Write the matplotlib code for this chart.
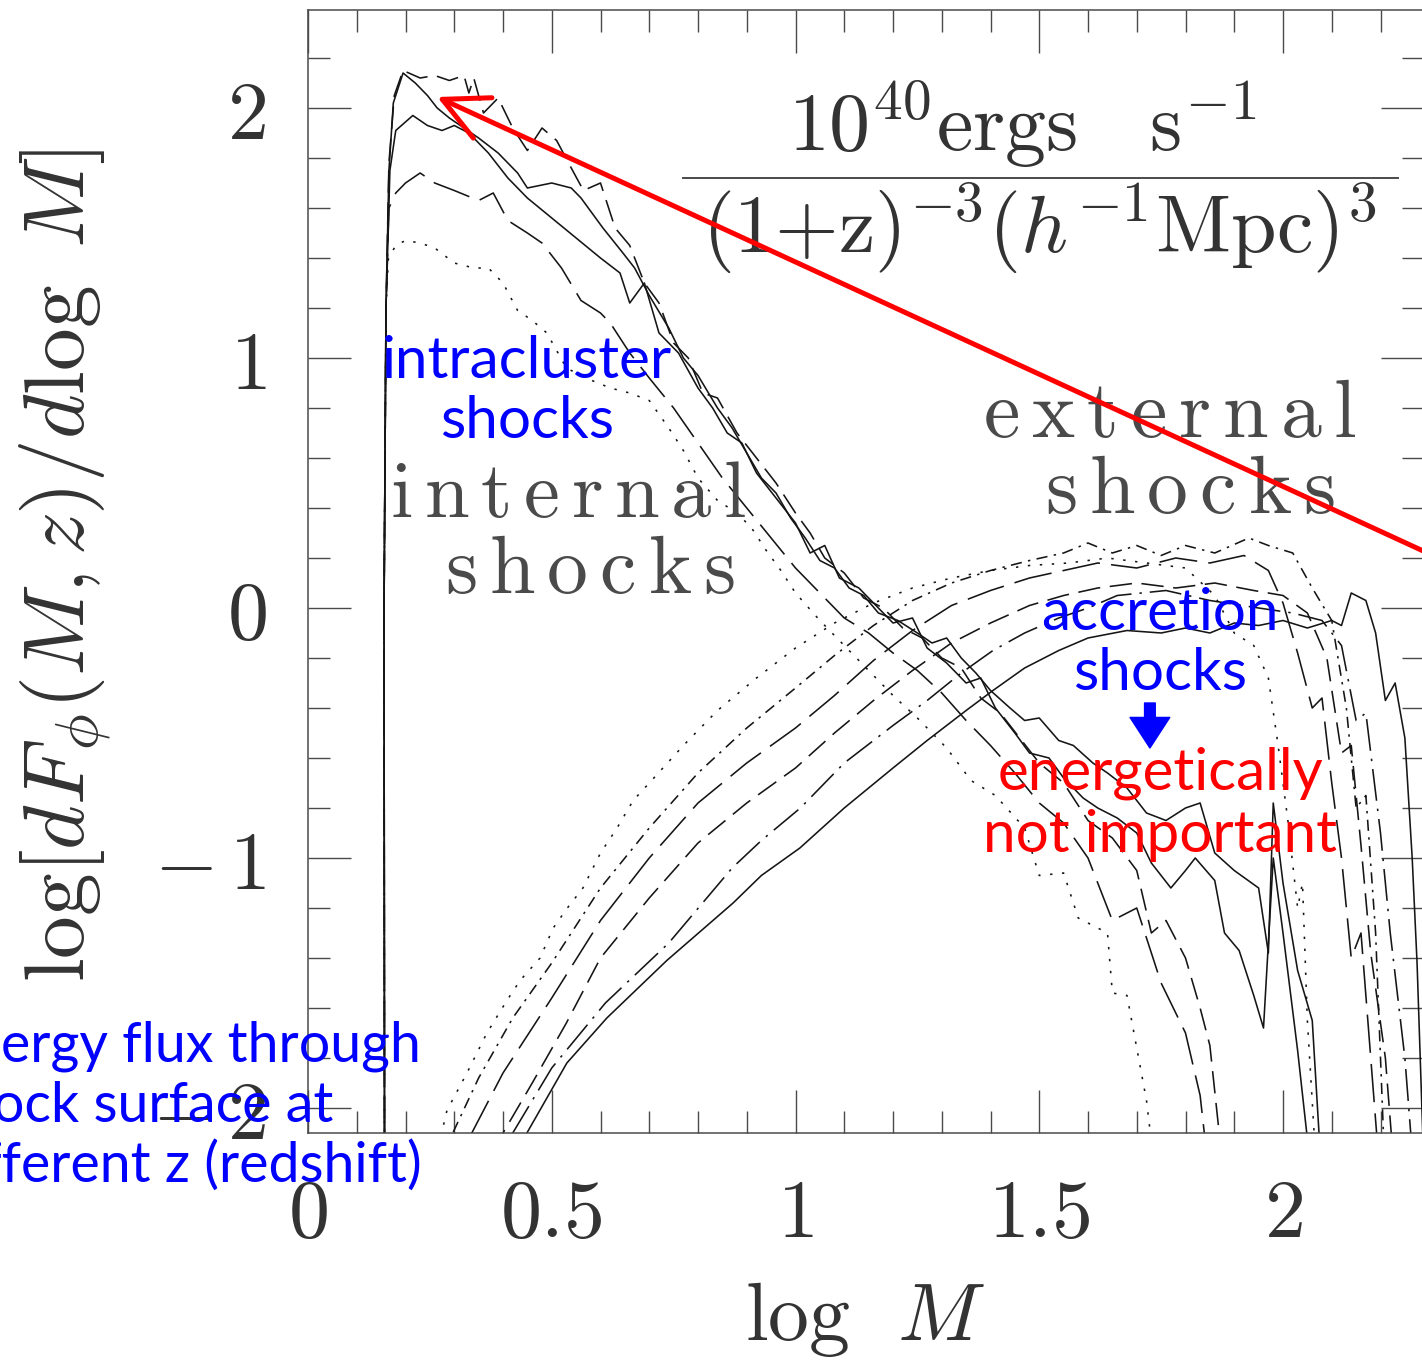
import numpy as np
import matplotlib.pyplot as plt

plt.rcParams['mathtext.fontset'] = 'cm'

# internal shocks: (log M, log dF/dlogM)
int_solid_a = [(0.157, -2.3), (0.156, 0.0), (0.160, 1.2), (0.166, 1.75), (0.175, 2.02), (0.195, 2.14),
               (0.22, 2.10), (0.245, 2.05), (0.265, 2.0), (0.29, 1.96), (0.35, 1.88), (0.39, 1.82),
               (0.43, 1.74), (0.45, 1.68), (0.50, 1.70), (0.54, 1.68), (0.56, 1.64), (0.605, 1.52),
               (0.646, 1.42), (0.67, 1.36), (0.70, 1.25), (0.74, 1.12), (0.77, 1.0), (0.80, 0.93),
               (0.84, 0.80), (0.87, 0.72), (0.90, 0.62), (0.93, 0.52), (0.96, 0.46), (0.99, 0.36),
               (1.02, 0.28), (1.05, 0.19), (1.08, 0.16), (1.11, 0.08), (1.14, 0.05), (1.17, -0.02),
               (1.21, -0.05), (1.25, -0.10), (1.28, -0.14), (1.31, -0.12), (1.34, -0.20), (1.37, -0.26),
               (1.40, -0.33), (1.44, -0.40), (1.47, -0.45), (1.50, -0.44), (1.54, -0.53), (1.57, -0.55),
               (1.61, -0.62), (1.64, -0.66), (1.68, -0.72), (1.72, -0.82), (1.76, -0.85), (1.80, -0.80),
               (1.83, -0.78), (1.86, -0.98), (1.90, -1.05), (1.95, -1.12), (1.97, -1.38), (1.98, -0.78),
               (2.00, -1.10), (2.03, -1.45), (2.06, -1.65), (2.08, -2.3)]

int_solid_b = [(0.157, -2.3), (0.156, 0.0), (0.160, 1.2), (0.168, 1.75), (0.18, 1.91), (0.215, 1.97),
               (0.245, 1.93), (0.275, 1.91), (0.30, 1.93), (0.33, 1.90), (0.37, 1.82), (0.41, 1.72),
               (0.45, 1.64), (0.50, 1.56), (0.55, 1.48), (0.60, 1.40), (0.64, 1.34), (0.66, 1.22),
               (0.69, 1.30), (0.72, 1.10), (0.76, 1.02), (0.80, 0.88), (0.83, 0.80), (0.86, 0.70),
               (0.89, 0.66), (0.92, 0.54), (0.96, 0.44), (1.00, 0.34), (1.03, 0.22), (1.06, 0.25),
               (1.09, 0.12), (1.13, 0.08), (1.17, 0.00), (1.20, -0.06), (1.24, -0.04), (1.27, -0.16),
               (1.31, -0.22), (1.35, -0.30), (1.38, -0.28), (1.41, -0.40), (1.45, -0.50), (1.48, -0.58),
               (1.52, -0.60), (1.55, -0.68), (1.59, -0.76), (1.62, -0.80), (1.66, -0.84), (1.70, -0.90),
               (1.73, -1.02), (1.77, -1.12), (1.80, -1.05), (1.82, -1.00), (1.86, -1.09), (1.88, -1.30),
               (1.91, -1.37), (1.94, -1.55), (1.96, -1.68), (1.98, -1.00), (2.00, -1.30), (2.03, -1.77),
               (2.06, -2.3)]

int_dash = [(0.157, -2.3), (0.156, 0.0), (0.160, 1.2), (0.166, 1.78), (0.177, 2.05), (0.195, 2.15),
            (0.23, 2.12), (0.26, 2.13), (0.29, 2.11), (0.32, 2.13), (0.33, 2.06), (0.34, 2.12),
            (0.36, 1.98), (0.39, 2.04), (0.42, 1.92), (0.45, 1.83), (0.48, 1.92), (0.51, 1.87),
            (0.54, 1.76), (0.565, 1.67), (0.60, 1.70), (0.63, 1.52), (0.66, 1.45), (0.69, 1.30),
            (0.72, 1.22), (0.75, 1.06), (0.78, 1.00), (0.81, 0.86), (0.84, 0.84), (0.88, 0.70),
            (0.92, 0.60), (0.96, 0.50), (1.00, 0.38), (1.03, 0.30), (1.06, 0.20), (1.10, 0.14),
            (1.14, 0.04), (1.18, 0.00), (1.22, -0.08), (1.26, -0.12), (1.30, -0.20), (1.34, -0.24),
            (1.38, -0.36), (1.42, -0.42), (1.46, -0.52), (1.50, -0.62), (1.55, -0.70), (1.60, -0.85),
            (1.65, -0.92), (1.70, -1.05), (1.73, -1.30), (1.76, -1.25), (1.80, -1.40), (1.83, -1.60),
            (1.85, -1.75), (1.88, -2.3)]

int_longdash = [(0.157, -2.3), (0.156, 0.0), (0.160, 1.2), (0.166, 1.60), (0.18, 1.66), (0.20, 1.70),
                (0.23, 1.74), (0.26, 1.70), (0.30, 1.67), (0.35, 1.63), (0.38, 1.66), (0.41, 1.55),
                (0.45, 1.50), (0.48, 1.46), (0.52, 1.36), (0.56, 1.23), (0.60, 1.18), (0.62, 1.14),
                (0.66, 1.02), (0.70, 0.92), (0.75, 0.80), (0.80, 0.66), (0.85, 0.52), (0.90, 0.40),
                (0.95, 0.28), (1.00, 0.16), (1.05, 0.06), (1.10, -0.04), (1.15, -0.10), (1.20, -0.18),
                (1.25, -0.25), (1.30, -0.34), (1.35, -0.45), (1.40, -0.55), (1.45, -0.66), (1.50, -0.78),
                (1.55, -0.86), (1.60, -1.00), (1.65, -1.25), (1.70, -1.20), (1.75, -1.50), (1.80, -1.70),
                (1.83, -1.95), (1.85, -2.3)]

int_dot = [(0.157, -2.3), (0.156, 0.0), (0.160, 1.2), (0.165, 1.40), (0.18, 1.45), (0.20, 1.47),
           (0.23, 1.46), (0.26, 1.44), (0.30, 1.38), (0.34, 1.36), (0.37, 1.36), (0.40, 1.30),
           (0.43, 1.19), (0.46, 1.15), (0.49, 1.10), (0.53, 0.96), (0.57, 0.92), (0.62, 0.88),
           (0.66, 0.86), (0.70, 0.83), (0.74, 0.72), (0.77, 0.63), (0.80, 0.52), (0.84, 0.43),
           (0.88, 0.38), (0.91, 0.32), (0.94, 0.23), (0.97, 0.15), (1.00, 0.06), (1.05, -0.05),
           (1.10, -0.15), (1.15, -0.25), (1.20, -0.35), (1.25, -0.44), (1.31, -0.56), (1.36, -0.69),
           (1.41, -0.75), (1.47, -0.88), (1.50, -1.07), (1.55, -1.06), (1.58, -1.24), (1.61, -1.27),
           (1.64, -1.30), (1.65, -1.54), (1.68, -1.55), (1.72, -1.97), (1.74, -2.3)]

# external shocks
ext_dot = [(0.25, -2.3), (0.285, -2.01), (0.326, -1.86), (0.367, -1.70), (0.408, -1.57), (0.435, -1.49),
           (0.476, -1.40), (0.503, -1.28), (0.532, -1.20), (0.564, -1.12), (0.60, -0.98), (0.634, -0.88),
           (0.667, -0.77), (0.70, -0.70), (0.77, -0.55), (0.84, -0.41), (0.92, -0.28), (1.00, -0.16),
           (1.08, -0.06), (1.16, 0.02), (1.24, 0.08), (1.32, 0.12), (1.40, 0.15), (1.48, 0.17),
           (1.56, 0.18), (1.64, 0.20), (1.72, 0.18), (1.80, 0.16), (1.86, 0.05), (1.90, -0.10),
           (1.94, -0.15), (1.97, -0.28), (1.99, -0.55), (2.01, -0.85), (2.03, -1.20), (2.04, -1.10),
           (2.05, -1.65), (2.07, -2.3)]

ext_dashdot_short = [(0.27, -2.3), (0.297, -2.1), (0.35, -1.88), (0.42, -1.64), (0.50, -1.42), (0.60, -1.12),
                     (0.70, -0.88), (0.80, -0.66), (0.90, -0.48), (1.00, -0.32), (1.08, -0.19), (1.16, -0.07),
                     (1.24, 0.03), (1.32, 0.10), (1.40, 0.15), (1.48, 0.19), (1.55, 0.22), (1.60, 0.26),
                     (1.65, 0.22), (1.70, 0.25), (1.75, 0.21), (1.80, 0.25), (1.86, 0.22), (1.93, 0.28),
                     (1.97, 0.25), (2.02, 0.22), (2.06, 0.08), (2.10, -0.05), (2.13, -0.40), (2.15, -0.80),
                     (2.17, -0.75), (2.19, -1.30), (2.21, -2.3)]

ext_longdash = [(0.31, -2.3), (0.336, -2.1), (0.40, -1.86), (0.50, -1.56), (0.60, -1.25), (0.70, -1.00),
                (0.80, -0.78), (0.90, -0.62), (1.00, -0.48), (1.08, -0.35), (1.16, -0.21), (1.24, -0.09),
                (1.32, 0.01), (1.40, 0.07), (1.48, 0.12), (1.55, 0.15), (1.62, 0.18), (1.70, 0.16),
                (1.78, 0.20), (1.85, 0.18), (1.92, 0.21), (1.97, 0.15), (2.00, 0.02), (2.03, -0.18),
                (2.06, -0.40), (2.08, -0.36), (2.10, -0.70), (2.12, -1.00), (2.14, -1.40), (2.16, -1.30),
                (2.18, -1.80), (2.20, -2.3)]

ext_dash = [(0.38, -2.3), (0.40, -2.1), (0.46, -1.90), (0.53, -1.66), (0.60, -1.40), (0.70, -1.16),
            (0.80, -0.94), (0.90, -0.78), (1.00, -0.64), (1.08, -0.50), (1.16, -0.37), (1.24, -0.25),
            (1.32, -0.14), (1.40, -0.06), (1.48, 0.01), (1.55, 0.05), (1.62, 0.08), (1.70, 0.10),
            (1.78, 0.08), (1.86, 0.10), (1.94, 0.07), (2.00, 0.05), (2.05, -0.02), (2.09, -0.20),
            (2.12, -0.58), (2.14, -0.55), (2.16, -0.95), (2.18, -1.38), (2.21, -1.80), (2.23, -2.3)]

ext_dashdot_long = [(0.40, -2.3), (0.42, -2.1), (0.50, -1.84), (0.61, -1.58), (0.74, -1.34), (0.87, -1.04),
                    (0.93, -0.93), (1.01, -0.80), (1.10, -0.62), (1.20, -0.47), (1.27, -0.37), (1.34, -0.26),
                    (1.405, -0.17), (1.47, -0.10), (1.54, -0.04), (1.60, 0.00), (1.66, 0.05), (1.76, 0.07),
                    (1.85, 0.03), (1.95, 0.00), (2.02, -0.02), (2.08, -0.05), (2.12, -0.15), (2.15, -0.45),
                    (2.17, -0.42), (2.20, -0.90), (2.22, -1.30), (2.25, -1.80), (2.27, -2.3)]

ext_solid = [(0.44, -2.3), (0.449, -2.1), (0.531, -1.82), (0.613, -1.64), (0.736, -1.41), (0.872, -1.18),
             (0.93, -1.07), (1.009, -0.96), (1.10, -0.80), (1.20, -0.64), (1.27, -0.53), (1.35, -0.41),
             (1.405, -0.33), (1.47, -0.24), (1.54, -0.17), (1.60, -0.12), (1.68, -0.09), (1.75, -0.10),
             (1.80, -0.08), (1.85, -0.10), (1.90, -0.06), (1.95, -0.07), (2.00, -0.05), (2.05, -0.08),
             (2.10, -0.05), (2.12, -0.07), (2.14, 0.06), (2.17, 0.03), (2.19, -0.10), (2.21, -0.37),
             (2.23, -0.30), (2.25, -0.52), (2.265, -1.0), (2.275, -1.42), (2.29, -2.3)]

x_ticks = [0, 0.5, 1, 1.5, 2]
x_ticklabels = ['$0$', '$0.5$', '$1$', '$1.5$', '$2$']
y_ticks = [-2, -1, 0, 1, 2]
y_ticklabels = [r'$-\,2$', r'$-\,1$', '$0$', '$1$', '$2$']

W, H = 1422, 1361
fig = plt.figure(figsize=(W / 100, H / 100), dpi=100)
ax = fig.add_axes([308 / W, 1 - 1133 / H, (1424 - 308) / W, 1123 / H])

solid = '-'
longdash = (0, (24, 7))
dash = (0, (14, 6))
dashdot_long = (0, (20, 5, 1.5, 5))
dashdot_short = (0, (7, 4, 1.5, 4))
dotted = (0, (1.5, 6))

curves = [
    (int_solid_a, solid), (int_solid_b, solid), (int_dash, dash),
    (int_longdash, longdash), (int_dot, dotted),
    (ext_dot, dotted), (ext_dashdot_short, dashdot_short), (ext_longdash, longdash),
    (ext_dash, dash), (ext_dashdot_long, dashdot_long), (ext_solid, solid),
]
for pts, ls in curves:
    a = np.array(pts)
    ax.plot(a[:, 0], a[:, 1], color='#151515', lw=1.15, linestyle=ls)

ax.set_xlim(0, (1424 - 308) / 487.5)
ax.set_ylim(-2.1, 2.392)

gray = '#4a4a4a'
ax.set_xticks(x_ticks)
ax.set_xticklabels(x_ticklabels)
ax.set_yticks(y_ticks)
ax.set_yticklabels(y_ticklabels)
ax.set_xticks(np.arange(0, 2.25, 0.1), minor=True)
ax.set_yticks(np.arange(-2.0, 2.3, 0.2), minor=True)
ax.tick_params(which='both', direction='in', top=True, right=True, color=gray, width=1.0,
               labelsize=59, labelcolor='#333333')
ax.tick_params(which='major', length=31, pad=30)
ax.tick_params(which='minor', length=16)
for s in ax.spines.values():
    s.set_color(gray)
    s.set_linewidth(1.1)

ax.text(-0.218, 0.505, r'$\log[dF_{\phi}(M,z)/d\log\ M]$', transform=ax.transAxes,
        rotation=90, ha='center', va='center', fontsize=61.5, color='#333333')
ax.text(0.499, -0.1665, r'$\log\ \,M$', transform=ax.transAxes,
        ha='center', va='center', fontsize=59, color='#333333')

# units box
ax.text(1.465, 1.832, r'$10^{40}\mathrm{ergs}\quad\mathrm{s}^{-1}$', ha='center', va='baseline',
        fontsize=59, color='#333333')
ax.plot([0.769, 2.236], [1.72, 1.72], color=gray, lw=1.4)
ax.text(1.50, 1.42, r'$(1{+}\mathrm{z})^{-3}(h^{-1}\mathrm{Mpc})^3$', ha='center', va='baseline',
        fontsize=59, color='#333333')

ax.text(0.168, 0.364, r'$\mathrm{i\,n\,t\,e\,r\,n\,a\,l}$', ha='left', va='baseline',
        fontsize=58, color=gray)
ax.text(0.281, 0.06, r'$\mathrm{s\,h\,o\,c\,k\,s}$', ha='left', va='baseline',
        fontsize=59, color=gray)
ax.text(1.768, 0.684, r'$\mathrm{e\,x\,t\,e\,r\,n\,a\,l}$', ha='center', va='baseline',
        fontsize=59, color=gray)
ax.text(1.809, 0.38, r'$\mathrm{s\,h\,o\,c\,k\,s}$', ha='center', va='baseline',
        fontsize=59, color=gray)

# overlay notes
blue = '#0000ff'
red = '#ff0000'
note = dict(family='Lato', fontsize=42, va='baseline', ha='center')
ax.text(0.449, 0.92, 'intracluster', color=blue, **note)
ax.text(0.449, 0.68, 'shocks', color=blue, **note)
ax.text(1.748, -0.088, 'accretion', color=blue, **note)
ax.text(1.748, -0.328, 'shocks', color=blue, **note)
ax.text(1.748, -0.728, 'energetically', color=red, **note)
ax.text(1.748, -0.976, 'not important', color=red, **note)
ax.annotate('', xy=(1.727, -0.56), xytext=(1.727, -0.38),
            arrowprops=dict(arrowstyle='simple,head_width=1.3,head_length=1.0,tail_width=0.35',
                            color=blue, mutation_scale=22, shrinkA=0, shrinkB=0))
ax.annotate('', xy=(0.265, 2.044), xytext=(2.33, 0.19), annotation_clip=False,
            arrowprops=dict(arrowstyle='->,head_width=0.4,head_length=0.8', color=red, lw=3.6,
                            mutation_scale=40, shrinkA=0, shrinkB=0))

left = dict(family='Lato', fontsize=40, va='baseline', ha='left', color=blue)
fig.text(-62 / W, 1 - 1062 / H, 'Energy flux through', **left)
fig.text(-62 / W, 1 - 1122 / H, 'shock surface at', **left)
fig.text(-62 / W, 1 - 1182 / H, 'different z (redshift)', **left)

fig.savefig('out.png', dpi=100)
